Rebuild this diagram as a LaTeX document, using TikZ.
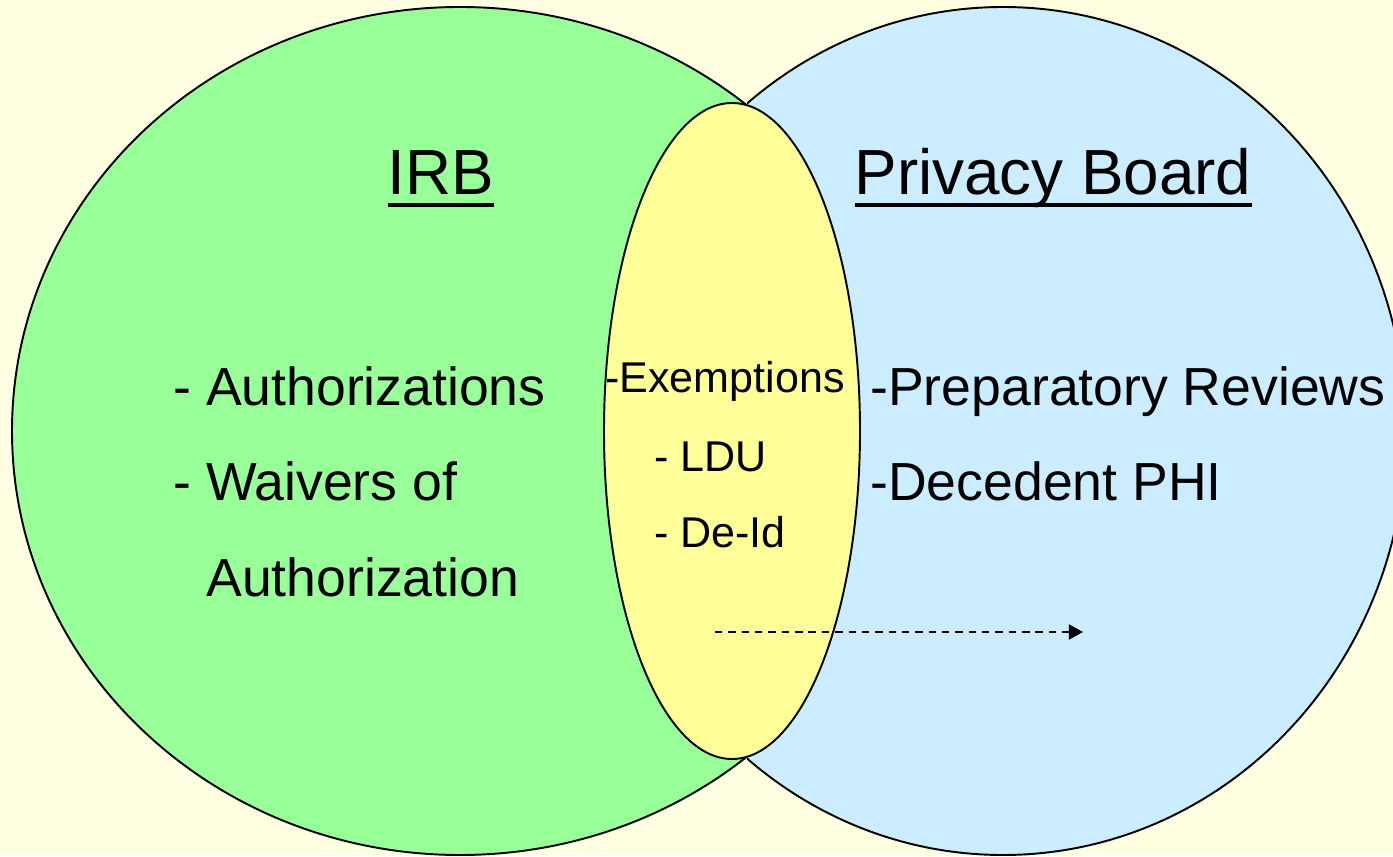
\documentclass[tikz,border=0pt]{standalone}
\usepackage{fontspec}
\setmainfont{Liberation Sans}
\usetikzlibrary{arrows.meta}

\definecolor{bgyellow}{HTML}{FFFFE1}
\definecolor{irbgreen}{HTML}{99FF99}
\definecolor{boardblue}{HTML}{CCECFF}
\definecolor{lensyellow}{HTML}{FFFF99}

\newcommand{\titleline}[1]{\setbox0=\hbox{#1}\rlap{\rule[-0.19em]{\wd0}{0.065em}}\box0}

\tikzstyle{region} = [draw=black, line width=1.1pt]
\tikzstyle{boardtitle} = [anchor=base, inner sep=0pt, font=\fontsize{36.3pt}{40pt}\selectfont]
\tikzstyle{bigitem} = [anchor=base west, inner sep=0pt, font=\fontsize{30.5pt}{36pt}\selectfont]
\tikzstyle{smallitem} = [anchor=base west, inner sep=0pt, font=\fontsize{24.5pt}{28pt}\selectfont]
\tikzstyle{flow} = [dash pattern=on 4.2pt off 3.4pt, line width=1.2pt, -{Triangle[length=8pt,width=8.5pt]}]

\begin{document}
\begin{tikzpicture}[x=0.02cm, y=0.02cm]
\fill[bgyellow] (0,0) rectangle (1393,856);
\useasboundingbox (0,0) rectangle (1393,856);

\begin{scope}
    \clip (0,0) rectangle (747,856);
    \filldraw[region, fill=irbgreen] (460,425) ellipse [x radius=448, y radius=424];
\end{scope}
\begin{scope}
    \clip (747,0) rectangle (1393,856);
    \filldraw[region, fill=boardblue] (1003,425) ellipse [x radius=403, y radius=424];
\end{scope}
\filldraw[region, fill=lensyellow] (732,425) ellipse [x radius=128, y radius=328];

\node[boardtitle] (irb) at (441,661) {\titleline{IRB}};
\node[boardtitle] (board) at (1053,661) {\titleline{Privacy Board}};

\node[bigitem] (auth) at (173,450) {- Authorizations};
\node[bigitem] (waiv) at (173,355) {- Waivers of};
\node[bigitem] (waivb) at (206,259) {Authorization};

\node[bigitem] (prep) at (870,450) {-Preparatory Reviews};
\node[bigitem] (dec) at (870,355) {-Decedent PHI};

\node[smallitem] (exem) at (605,463) {-Exemptions};
\node[smallitem] (ldu) at (654,384) {- LDU};
\node[smallitem] (deid) at (654,308) {- De-Id};

\coordinate (flowstart) at (715,224);
\coordinate (flowend) at (1083,224);
\draw[flow] (flowstart) -- (flowend);
\end{tikzpicture}
\end{document}
